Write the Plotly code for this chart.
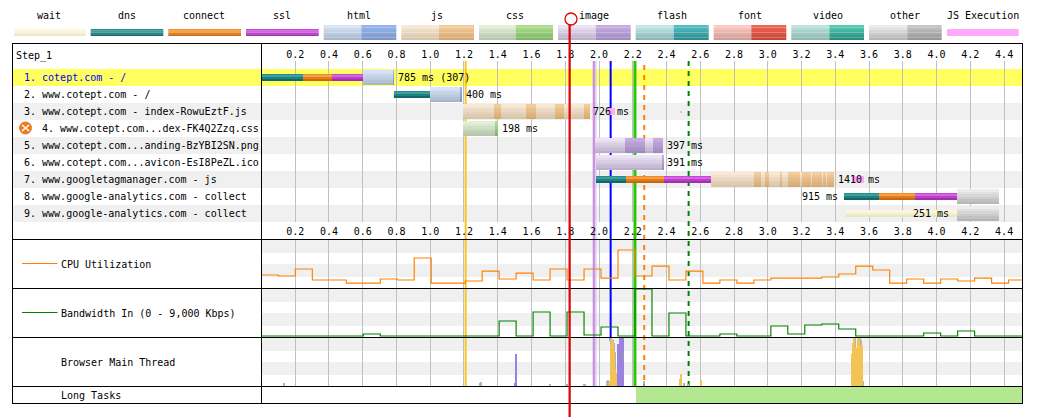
import plotly.graph_objects as go

W, H = 1049, 417
FONT = "DejaVu Sans Mono"
FS = 10

# ---------- data (seconds) ----------
TICKS = [0.2, 0.4, 0.6, 0.8, 1.0, 1.2, 1.4, 1.6, 1.8, 2.0, 2.2, 2.4, 2.6, 2.8, 3.0, 3.2, 3.4, 3.6, 3.8, 4.0, 4.2, 4.4]
ROW_LABELS = [
    "1. cotept.com - /",
    "2. www.cotept.com - /",
    "3. www.cotept.com - index-RowuEztF.js",
    "4. www.cotept.com...dex-FK4Q2Zzq.css",
    "5. www.cotept.com...anding-BzYBI2SN.png",
    "6. www.cotept.com...avicon-EsI8PeZL.ico",
    "7. www.googletagmanager.com - js",
    "8. www.google-analytics.com - collect",
    "9. www.google-analytics.com - collect",
]
TIME_LABELS = ["785 ms (307)", "400 ms", "726 ms", "198 ms", "397 ms", "391 ms", "1410 ms", "915 ms", "251 ms"]
TIME_LABEL_AT = [0.811, 1.210, 1.966, 1.427, 2.405, 2.405, 3.414, 3.201, 3.862]

WAIT = [(2, 0.784, 0.792), (9, 3.463, 4.121)]
DNS = [(1, 0.0, 0.25), (2, 0.79, 1.0), (7, 1.986, 2.164), (8, 3.451, 3.659)]
CONNECT = [(1, 0.25, 0.422), (7, 2.164, 2.389), (8, 3.659, 3.872)]
SSL = [(1, 0.422, 0.603), (7, 2.389, 2.665), (8, 3.872, 4.121)]
HTML_LIGHT = [(1, 0.603, 0.787), (2, 1.0, 1.188)]
HTML_DARK = [(1, 0.782, 0.787), (2, 1.183, 1.188)]
JS_LIGHT = [(3, 1.198, 1.947), (7, 2.665, 3.394)]
JS_DARK = [(3, 1.378, 1.419), (3, 1.568, 1.627), (3, 1.74, 1.793), (3, 1.911, 1.947),
           (7, 2.918, 2.964), (7, 2.983, 3.007), (7, 3.076, 3.088), (7, 3.126, 3.137),
           (7, 3.142, 3.195), (7, 3.207, 3.256), (7, 3.266, 3.325), (7, 3.335, 3.345),
           (7, 3.351, 3.380), (7, 3.388, 3.394)]
CSS_LIGHT = [(4, 1.198, 1.406)]
CSS_DARK = [(4, 1.384, 1.406)]
IMAGE_LIGHT = [(5, 1.98, 2.383), (6, 1.986, 2.383)]
IMAGE_DARK = [(5, 2.158, 2.277), (5, 2.324, 2.383), (6, 2.378, 2.383)]
OTHER_LIGHT = [(8, 4.121, 4.37), (9, 4.121, 4.37)]
JS_EXEC = [(3, 2.054, 2.10), (7, 3.50, 3.57)]
JS_EXEC_DOT = [(3, 2.484, 2.49)]

EVENT_YELLOW = 1.21
EVENT_PURPLE = 1.97
EVENT_LAVENDER = 1.982
EVENT_BLUE = 2.069
EVENT_GREEN = 2.213
EVENT_ORANGE = 2.268
EVENT_DKGREEN = 2.531
EVENT_RED = 1.826
LONG_TASK = (2.221, 4.506)

BIN_SEC = 0.1006
CPU = [26.5, 24.4, 38.7, 16.3, 16.3, 10.1, 10.1, 18.3, 16.3, 61.2, 10.1, 10.1, 14.2, 34.6, 18.3,
       30.5, 16.3, 38.7, 16.3, 38.7, 20.3, 77.5, 24.4, 44.8, 16.3, 34.6, 10.1, 16.3, 10.1, 16.3,
       20.3, 20.3, 20.3, 22.4, 28.5, 44.8, 36.7, 10.1, 18.3, 10.1, 18.3, 14.2, 20.3, 10.1, 16.3]
BW = [184, 184, 184, 184, 184, 184, 551, 184, 184, 184, 184, 184, 184, 184, 2939,
      184, 4592, 184, 4592, 367, 1837, 184, 8816, 184, 4408, 184, 184, 551, 184, 184,
      2020, 551, 2204, 2388, 1469, 184, 184, 184, 184, 735, 184, 1102, 184, 184, 184]

GREY_T = [0.137, 1.298, 1.304, 1.713, 1.813, 1.914, 1.920, 2.050, 2.056, 2.062, 2.074, 2.080, 2.086, 2.092, 2.098, 2.269, 2.506, 2.530, 3.519, 3.549, 3.555, 3.567]
GREY_V = [6, 6, 8, 4, 4, 4, 4, 10, 12, 8, 98, 61, 94, 88, 69, 10, 6, 4, 98, 98, 94, 10]
YELLOW_T = [2.068, 2.074, 2.080, 2.086, 2.092, 2.098, 2.103, 2.109, 2.483, 2.489, 2.607,
            3.502, 3.507, 3.513, 3.519, 3.525, 3.531, 3.537, 3.543, 3.549, 3.555, 3.561]
YELLOW_V = [10, 86, 96, 90, 71, 35, 27, 10, 14, 24, 12, 65, 88, 98, 80, 67, 78, 98, 98, 57, 84, 84]
PURPLE_T = [1.505, 1.511, 2.115, 2.121, 2.127, 2.133, 2.139, 2.145, 2.269]
PURPLE_V = [6, 65, 86, 86, 98, 98, 98, 98, 4]

LEGEND = [("wait", 49), ("dns", 127), ("connect", 204), ("ssl", 282), ("html", 359), ("js", 437),
          ("css", 515), ("image", 594), ("flash", 672), ("font", 750), ("video", 828), ("other", 905),
          ("JS Execution", 983)]

# ---------- styles ----------
def mix(a, b, f):
    ca = [int(a[i:i + 2], 16) for i in (1, 3, 5)]
    cb = [int(b[i:i + 2], 16) for i in (1, 3, 5)]
    return "#%02x%02x%02x" % tuple(round(p + (q - p) * f) for p, q in zip(ca, cb))

def grad(top, bottom, n=6):
    return [mix(top, bottom, k / (n - 1)) for k in range(n)]

P_WAIT = ["#fdf8dc", "#fbf6d8", "#f3efcf", "#e8e6c8"]
P_DNS = ["#2a8c8c", "#3f9f9c", "#1e8080", "#10686a"]
P_CONNECT = ["#f08c30", "#f8a040", "#e07c1c", "#c86a0c"]
P_SSL = ["#c44ad4", "#d864e0", "#bb3ecb", "#a030b0"]
P_HTML = (grad("#d8e4f8", "#a8b8cc"), grad("#94b4ec", "#7c98c8"))
P_JS = (grad("#f8e8d4", "#d8c6aa"), grad("#f2cc9c", "#d8aa72"))
P_CSS = (grad("#e2f0d8", "#b4c6ac"), grad("#aede8c", "#80b868"))
P_IMAGE = (grad("#ece4f4", "#bcb0cc"), grad("#c6ace2", "#a08cc0"))
P_FLASH = (grad("#c4e8e8", "#8cb6b6"), grad("#54bcc4", "#2c8e90"))
P_FONT = (grad("#fccac2", "#d09e96"), grad("#f06454", "#c84838"))
P_VIDEO = (grad("#bce4dc", "#90b8b0"), grad("#54ccb4", "#288e80"))
P_OTHER = (grad("#ececec", "#b6b6b6"), grad("#c4c4c4", "#989898"))
GRID = "#c0c0c0"
STRIPE = "#f0f0f0"

def px(x):
    return x / W

def py(y):
    return 1 - y / H

def dom(top, bottom):
    return [py(bottom), py(top)]

SCALE_X0, SCALE_X1 = 261.4, 1022.0
T_MAX = (SCALE_X1 - SCALE_X0) / 168.8
ROW_PX = 17.0
WF_TOP, WF_BOTTOM = 61.0, 222.0

fig = go.Figure()
shapes = []
notes = []

def rect(x0, y0, x1, y1, color, layer="below"):
    shapes.append(dict(type="rect", xref="paper", yref="paper", x0=px(x0), x1=px(x1), y0=py(y0), y1=py(y1),
                       fillcolor=color, line_width=0, layer=layer))

def hline(x0, x1, y, color="#000000", width=1, layer="above"):
    shapes.append(dict(type="line", xref="paper", yref="paper", x0=px(x0), x1=px(x1), y0=py(y), y1=py(y),
                       line=dict(color=color, width=width), layer=layer))

def vline(x, y0, y1, color="#000000", width=1, layer="above"):
    shapes.append(dict(type="line", xref="paper", yref="paper", x0=px(x), x1=px(x), y0=py(y0), y1=py(y1),
                       line=dict(color=color, width=width), layer=layer))

def tline(t, y0, y1, color, width, dash=None, layer="below"):
    shapes.append(dict(type="line", xref="x", yref="paper", x0=t, x1=t, y0=py(y0), y1=py(y1),
                       line=dict(color=color, width=width, dash=dash or "solid"), layer=layer))

def text(x, y, s, color="#000000", anchor="left"):
    notes.append(dict(xref="paper", yref="paper", x=px(x), y=py(y), text=s, showarrow=False, xanchor=anchor,
                      yanchor="middle", borderpad=0, font=dict(family=FONT, size=FS, color=color)))

def add_segments(segs, colors, height_px):
    """One bar trace per shading band of a bar, placed through the row and time axes."""
    if not segs:
        return
    rows = [s[0] for s in segs]
    base = [s[1] for s in segs]
    dur = [s[2] - s[1] for s in segs]
    n = len(colors)
    total = height_px / ROW_PX
    bh = total / n
    for k, c in enumerate(colors):
        fig.add_trace(go.Bar(y=rows, x=dur, base=base, orientation="h", width=bh * 1.02,
                             offset=-total / 2 + k * bh, marker=dict(color=c, line_width=0),
                             hoverinfo="skip", showlegend=False, xaxis="x", yaxis="y"))

# stripes and rows (lowest layer)
rect(13, 69, 1022, 86, "#ffff60")
for r in (3, 5, 7, 9):
    rect(13, 69 + (r - 1) * ROW_PX, 1022, 69 + r * ROW_PX, STRIPE)
for top in (239, 288, 337):
    rect(262, top, 1022, top + 14, STRIPE)
    rect(262, top + 25, 1022, top + 38, STRIPE)

# vertical event lines run under the bars
tline(EVENT_YELLOW, 61, 386, "#f8c420", 2)
tline(EVENT_PURPLE, 61, 386, "#d090e0", 2.5)
tline(EVENT_LAVENDER, 61, 386, "#c8c8f4", 1)
tline(EVENT_BLUE, 61, 341, "#0000ff", 2)
tline(EVENT_GREEN, 61, 386, "#28c800", 3)
tline(EVENT_ORANGE, 65, 404, "#ff8000", 2, dash="5px,5px")
tline(EVENT_DKGREEN, 61, 386, "#008000", 2, dash="5px,5px")

# waterfall bars
add_segments(WAIT, P_WAIT, 7)
add_segments(DNS, P_DNS, 7)
add_segments(CONNECT, P_CONNECT, 7)
add_segments(SSL, P_SSL, 7)
add_segments(HTML_LIGHT, P_HTML[0], 15)
add_segments(HTML_DARK, P_HTML[1], 15)
add_segments(JS_LIGHT, P_JS[0], 15)
add_segments(JS_DARK, P_JS[1], 15)
add_segments(CSS_LIGHT, P_CSS[0], 15)
add_segments(CSS_DARK, P_CSS[1], 15)
add_segments(IMAGE_LIGHT, P_IMAGE[0], 15)
add_segments(IMAGE_DARK, P_IMAGE[1], 15)
add_segments(OTHER_LIGHT, P_OTHER[0], 15)
add_segments(JS_EXEC, ["#ffaaf8"], 7)
add_segments(JS_EXEC_DOT, ["#ffaaf8"], 2)

# invisible carrier so the lower time axis is drawn
fig.add_trace(go.Scatter(x=TICKS[:1], y=[1], mode="markers", marker=dict(opacity=0), xaxis="x2", yaxis="y",
                         hoverinfo="skip", showlegend=False))

# CPU and bandwidth step lines
edges = [i * BIN_SEC for i in range(len(CPU) + 1)]
edges[-1] = T_MAX
fig.add_trace(go.Scatter(x=[0] + edges, y=[0] + CPU + CPU[-1:], mode="lines", line=dict(color="#ff8000", width=1.15, shape="hv"),
                         xaxis="x3", yaxis="y3", hoverinfo="skip", showlegend=False, cliponaxis=False))
fig.add_trace(go.Scatter(x=edges, y=BW + BW[-1:], mode="lines", line=dict(color="#008000", width=1.15, shape="hv"),
                         xaxis="x4", yaxis="y4", hoverinfo="skip", showlegend=False, cliponaxis=False))

# main thread activity
for ts, vs, c in ((GREY_T, GREY_V, "#b4b4b4"), (YELLOW_T, YELLOW_V, "#f2c455"), (PURPLE_T, PURPLE_V, "#9b82e0")):
    fig.add_trace(go.Bar(x=ts, y=vs, width=0.0072, marker=dict(color=c, line_width=0), xaxis="x5", yaxis="y5",
                         hoverinfo="skip", showlegend=False))
fig.add_trace(go.Bar(x=[2.148], y=[14], base=[55], width=0.005, marker=dict(color="#7cb860", line_width=0),
                     xaxis="x5", yaxis="y5", hoverinfo="skip", showlegend=False))

# long tasks
fig.add_trace(go.Bar(y=[0], x=[LONG_TASK[1] - LONG_TASK[0]], base=[LONG_TASK[0]], orientation="h", width=1,
                     marker=dict(color="#b4e890", line_width=0), xaxis="x6", yaxis="y6",
                     hoverinfo="skip", showlegend=False))

# frame
for y in (43.5, 239.5, 288.5, 337.5, 386.5, 403.5):
    hline(12, 1023, y)
vline(12.5, 43, 404)
vline(1022.5, 43, 404)
vline(261.5, 43, 404)

# labels
text(15, 56, "Step_1")
for i, label in enumerate(ROW_LABELS):
    x = 40.5 if i == 3 else 23
    text(x, 69 + (i + 0.5) * ROW_PX, label, color="#0000ff" if i == 0 else "#000000")
for i, (s, t) in enumerate(zip(TIME_LABELS, TIME_LABEL_AT)):
    notes.append(dict(xref="x", yref="y", x=t, y=i + 1, text=s, showarrow=False, xanchor="left", yanchor="middle",
                      xshift=-1, borderpad=0, font=dict(family=FONT, size=FS, color="#000000")))

# error icon for row 4
shapes.append(dict(type="circle", xref="paper", yref="paper", x0=px(19), x1=px(32), y0=py(134.5), y1=py(121.5),
                   fillcolor="#f07c20", line_width=0, layer="above"))
for (a, b, c, d) in ((22, 125, 29, 131), (22, 131, 29, 125)):
    shapes.append(dict(type="line", xref="paper", yref="paper", x0=px(a), x1=px(c), y0=py(b), y1=py(d),
                       line=dict(color="#ffffff", width=1.6), layer="above"))

# chart labels
hline(22, 57.5, 263.5, "#ff8000", 1)
text(60, 264, "CPU Utilization")
hline(22, 57.5, 312.5, "#008000", 1)
text(60, 313, "Bandwidth In (0 - 9,000 Kbps)")
text(60, 362, "Browser Main Thread")
text(60, 395, "Long Tasks")

# legend
for name, cx in LEGEND:
    text(cx, 15, name, anchor="center")

def swatch_thin(x0, x1, colors):
    n = len(colors)
    for k, c in enumerate(colors):
        rect(x0, 29 + k * 7 / n, x1, 29 + (k + 1) * 7 / n, c)

def swatch_two(x0, xm, x1, pal):
    for tone, (a, b) in zip(pal, ((x0, xm), (xm, x1))):
        n = len(tone)
        for k, c in enumerate(tone):
            rect(a, 25 + k * 15 / n, b, 25 + (k + 1) * 15 / n, c)

swatch_thin(14, 85.7, P_WAIT)
swatch_thin(90.7, 163.3, P_DNS)
swatch_thin(168.3, 241, P_CONNECT)
swatch_thin(246, 318.7, P_SSL)
swatch_two(323.7, 361.3, 396.3, P_HTML)
swatch_two(401.3, 439, 474, P_JS)
swatch_two(479, 515.7, 553, P_CSS)
swatch_two(558, 595.7, 630.7, P_IMAGE)
swatch_two(635.7, 673.7, 708.7, P_FLASH)
swatch_two(713.7, 751.3, 786.3, P_FONT)
swatch_two(791.3, 829.3, 864, P_VIDEO)
swatch_two(869, 907.3, 941.7, P_OTHER)
rect(947, 29, 1018.7, 36, "#ffaaf8")

# red marker
tline(EVENT_RED, 24.5, 417, "#e00000", 2.2, layer="above")
shapes.append(dict(type="circle", xref="paper", yref="paper", x0=px(565), x1=px(577), y0=py(25), y1=py(13),
                   line=dict(color="#e00000", width=1.3), fillcolor="rgba(255,255,255,0)", layer="above"))

x_dom = [px(SCALE_X0), px(SCALE_X1)]
base_x = dict(domain=x_dom, range=[0, T_MAX], tickmode="array", tickvals=TICKS, ticklen=0, showline=False, zeroline=False,
              fixedrange=True)
tick_font = dict(family=FONT, size=FS, color="#000000")
hidden_y = dict(showgrid=False, zeroline=False, showticklabels=False, showline=False, ticks="", fixedrange=True)

fig.update_layout(
    width=W, height=H, autosize=False, margin=dict(l=0, r=0, t=0, b=0), paper_bgcolor="#ffffff",
    plot_bgcolor="rgba(0,0,0,0)", barmode="overlay", bargap=0, showlegend=False, shapes=shapes, annotations=notes,
    xaxis=dict(**base_x, side="top", anchor="y", showgrid=True, gridcolor=GRID, gridwidth=1, showticklabels=True,
               ticktext=["%.1f" % t for t in TICKS], tickfont=tick_font, ticklabelstandoff=0),
    xaxis2=dict(**base_x, side="bottom", anchor="y", overlaying="x", showgrid=False, showticklabels=True,
                ticktext=["%.1f" % t for t in TICKS], tickfont=tick_font, ticklabelstandoff=2),
    yaxis=dict(**hidden_y, domain=dom(WF_TOP, WF_BOTTOM), range=[9.5, 0.5 - (69 - WF_TOP) / ROW_PX], anchor="x"),
    xaxis3=dict(**base_x, anchor="y3", showgrid=True, gridcolor=GRID, showticklabels=False),
    yaxis3=dict(**hidden_y, domain=dom(239, 288), range=[0, 100], anchor="x3"),
    xaxis4=dict(**base_x, anchor="y4", showgrid=True, gridcolor=GRID, showticklabels=False),
    yaxis4=dict(**hidden_y, domain=dom(288, 337), range=[0, 9000], anchor="x4"),
    xaxis5=dict(**base_x, anchor="y5", showgrid=True, gridcolor=GRID, showticklabels=False),
    yaxis5=dict(**hidden_y, domain=dom(337, 386), range=[0, 100], anchor="x5"),
    xaxis6=dict(**base_x, anchor="y6", showgrid=False, showticklabels=False),
    yaxis6=dict(**hidden_y, domain=dom(386, 403), range=[-0.5, 0.5], anchor="x6"),
)

fig.write_html("out.html", config={"displayModeBar": False},
               post_script="document.body.style.margin='0';document.body.style.overflow='hidden';")
